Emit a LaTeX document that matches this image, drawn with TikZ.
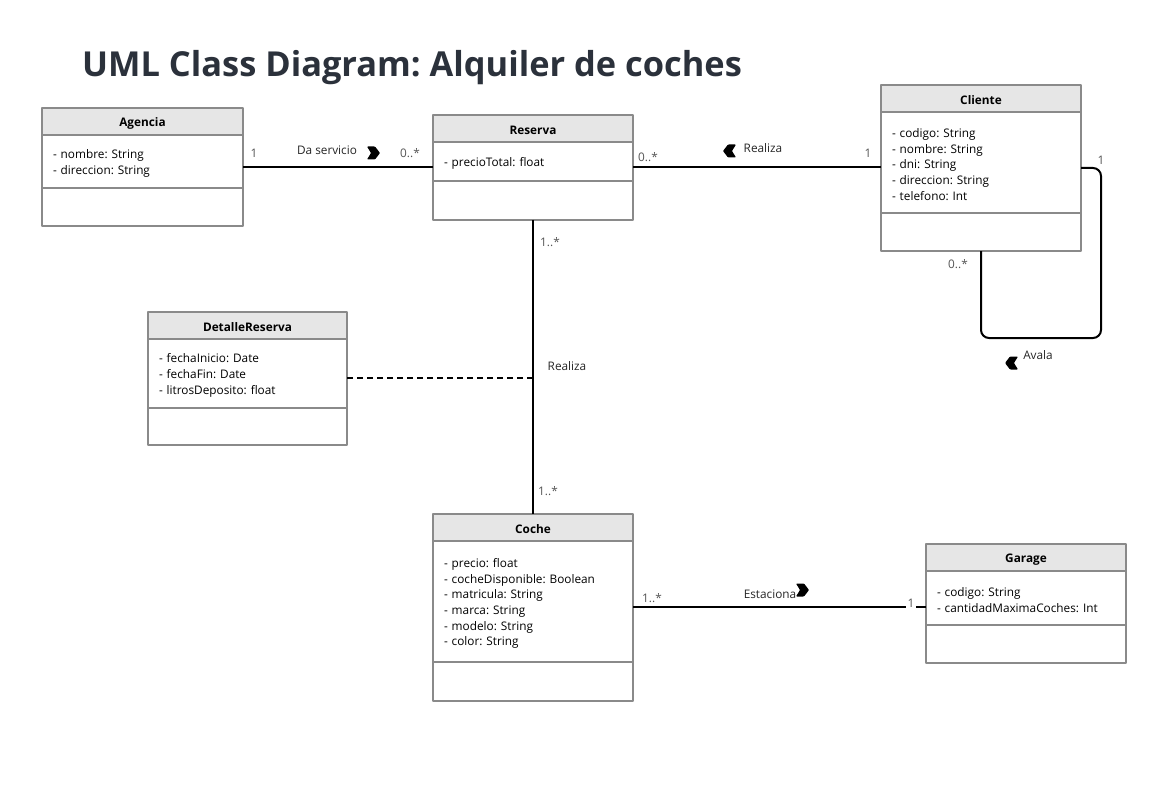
\documentclass[tikz,border=0pt]{standalone}
\usepackage{fontspec}
\setmainfont{Open Sans}
\frenchspacing
\usetikzlibrary{positioning}
\definecolor{boxline}{HTML}{8A8A8A}
\definecolor{headfill}{HTML}{E6E6E6}
\definecolor{titlecol}{HTML}{2B313B}
\definecolor{multcol}{HTML}{555555}

\tikzset{
  clshead/.style={draw=boxline, line width=1.2pt, fill=headfill, font=\fontsize{11.8}{13}\selectfont\bfseries, minimum height=27pt, anchor=north west, inner sep=0pt, outer sep=0pt},
  clsattr/.style={draw=boxline, line width=1.2pt, font=\fontsize{11.8}{15.7}\selectfont, align=left, anchor=north, inner xsep=11pt, inner ysep=0pt, outer sep=0pt},
  clsops/.style={draw=boxline, line width=1.2pt, anchor=north, inner sep=0pt, outer sep=0pt},
  assoc/.style={line width=2pt, black},
  mult/.style={font=\fontsize{11.8}{13}\selectfont, text=multcol, inner sep=0pt},
  rel/.style={font=\fontsize{11.8}{13}\selectfont, text=black!85, inner sep=0pt},
  chev/.pic={\fill[rounded corners=0.8pt] (-6,-6.5) -- (2,-6.5) -- (7,0) -- (2,6.5) -- (-6,6.5) -- (-2,0) -- cycle;}
}

% name, top left, width, title, attribute height, attributes, operation height
\newcommand{\umlclass}[7]{%
  \pgfmathsetmacro\clstw{#3-22}
  \node[clshead, minimum width=#3pt] (#1) at (#2) {\rule{0pt}{12pt}#4};
  \node[clsattr, text width=\clstw pt, minimum height=#5pt] (#1-a) at (#1.south) {\rule{0pt}{13pt}#6};
  \node[clsops, minimum width=#3pt, minimum height=#7pt] (#1-m) at (#1-a.south) {};
}

\begin{document}
\begin{tikzpicture}[x=1pt, y=-1pt, line join=round]
	\fill[white] (0,0) rectangle (1174,810);
	\useasboundingbox (0,0) rectangle (1174,810);
	\node[font=\fontsize{34.4}{40}\selectfont\bfseries, text=titlecol, anchor=base west, inner sep=0pt] (title) at (82,77) {UML Class Diagram: Alquiler de coches};
	% classes
	\umlclass{agencia}{42,108}{201}{Agencia}{53}{- nombre: String\\- direccion: String}{38}
	\umlclass{reserva}{433,115}{200}{Reserva}{39}{- precioTotal: float}{39}
	\umlclass{cliente}{881,85}{200}{Cliente}{101}{- codigo: String\\- nombre: String\\- dni: String\\- direccion: String\\- telefono: Int}{38}
	\umlclass{detalle}{148,312}{199}{DetalleReserva}{69}{- fechaInicio: Date\\- fechaFin: Date\\- litrosDeposito: float}{37}
	\umlclass{coche}{433,514}{200}{Coche}{121}{- precio: float\\- cocheDisponible: Boolean\\- matricula: String\\- marca: String\\- modelo: String\\- color: String}{39}
	\umlclass{garage}{926,544}{200}{Garage}{54}{- codigo: String\\- cantidadMaximaCoches: Int}{38}
	% associations
	\draw[assoc] ([yshift=-6pt]agencia-a.east) -- ([yshift=-6pt]agencia-a.east -| reserva-a.west);
	\draw[assoc] ([yshift=-5.5pt]reserva-a.east) -- ([yshift=-5.5pt]reserva-a.east -| cliente-a.west);
	\draw[assoc] (reserva-m.south) -- (coche.north);
	\draw[assoc, line width=1.8pt, dash pattern=on 6pt off 4pt] ([yshift=-4.5pt]detalle-a.east) -- ([yshift=-4.5pt]detalle-a.east -| coche.north);
	\draw[assoc, rounded corners=8pt] ([yshift=-5.5pt]cliente-a.east) -- ++(20,0) |- ([yshift=-87pt]cliente-m.south) -- (cliente-m.south);
	\draw[assoc] ([yshift=-5pt]coche-a.east) -- ([yshift=-5pt]coche-a.east -| garage-a.west);
	% labels
	\node[mult] (m1) at (254,153) {1};
	\node[rel] (r1) at (327,150) {Da servicio};
	\pic at (373,153) {chev};
	\node[mult] (m2) at (410,153) {0..*};
	\node[mult] (m3) at (648,157) {0..*};
	\pic[rotate=180] at (730,151) {chev};
	\node[rel] (r2) at (763,148) {Realiza};
	\node[mult] (m4) at (868,153) {1};
	\node[mult] (m5) at (1101,160) {1};
	\node[mult] (m6) at (958,264) {0..*};
	\pic[rotate=180] at (1012,363) {chev};
	\node[rel] (r3) at (1038,355) {Avala};
	\node[mult] (m7) at (550,242) {1..*};
	\node[rel] (r4) at (567,366) {Realiza};
	\node[mult] (m8) at (548,491) {1..*};
	\node[mult] (m9) at (652,598) {1..*};
	\node[rel] (r5) at (770,594) {Estaciona};
	\pic at (802,590) {chev};
	\node[mult, fill=white, inner sep=1.5pt, anchor=south] (m10) at (911,609) {1};
\end{tikzpicture}
\end{document}
